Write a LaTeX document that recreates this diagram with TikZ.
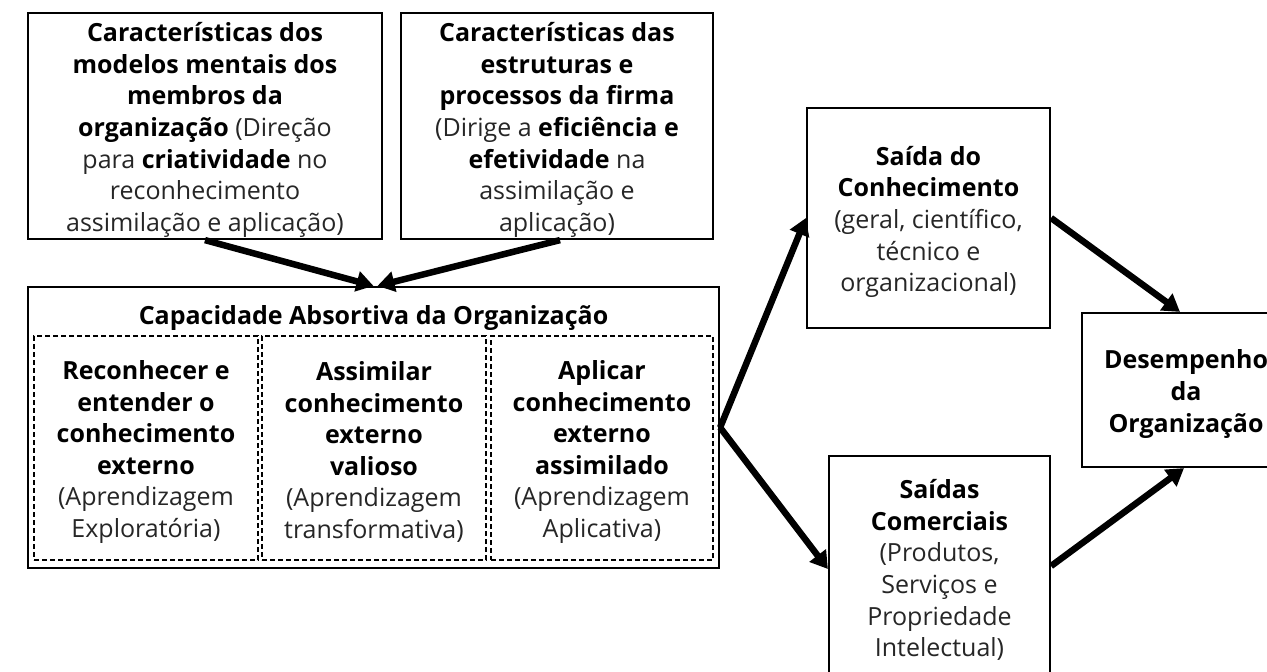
\documentclass[tikz,border=0pt]{standalone}
\usepackage{fontspec}
\setmainfont{Open Sans}
\usetikzlibrary{arrows.meta}
\newcommand\fsz{\fontsize{25}{31.6}\selectfont}
\newcommand\bt[1]{{\bfseries\color{black}#1}}
\definecolor{txtgray}{HTML}{262626}
\begin{document}
\begin{tikzpicture}[x=1pt,y=-1pt,
  box/.style={draw=black, line width=2.2pt, inner sep=0pt},
  dbox/.style={draw=black, line width=1.4pt, dash pattern=on 5pt off 3pt, inner sep=0pt},
  txt/.style={align=center, inner sep=0pt, font=\fsz, text=txtgray},
  arr/.style={line width=6.5pt, -{Triangle[length=17pt,width=20pt]}},
]
\useasboundingbox (0,0) rectangle (1267,672);
\clip (0,0) rectangle (1267,672);
\fill[white] (0,0) rectangle (1267,672);

\node[box, minimum width=354pt, minimum height=226pt] (c1) at (205,126) {};
\node[txt] (c1t) at ([yshift=-4pt]c1.center)
  {\bt{Características dos}\\ \bt{modelos mentais dos}\\ \bt{membros da}\\
   \bt{organização} (Direção\\ para \bt{criatividade} no\\ reconhecimento\\ assimilação e aplicação)};
\node[box, minimum width=312pt, minimum height=226pt] (c2) at (557,126) {};
\node[txt] (c2t) at ([yshift=-4pt]c2.center)
  {\bt{Características das}\\ \bt{estruturas e}\\ \bt{processos da firma}\\
   (Dirige a \bt{eficiência e}\\ \bt{efetividade} na\\ assimilação e\\ aplicação)};

\node[box, minimum width=691pt, minimum height=281pt] (cap) at (373.5,427.5) {};
\node[txt] (capt) at (373.5,318) {\bt{Capacidade Absortiva da Organização}};

\node[dbox, minimum width=224pt, minimum height=224pt] (d1) at (146,448) {};
\node[txt] (d1t) at ([yshift=-4pt]d1.center)
  {\bt{Reconhecer e}\\ \bt{entender o}\\ \bt{conhecimento}\\ \bt{externo}\\ (Aprendizagem\\ Exploratória)};
\node[dbox, minimum width=224pt, minimum height=224pt] (d2) at (374,448) {};
\node[txt] (d2t) at ([yshift=-4pt]d2.center)
  {\bt{Assimilar}\\ \bt{conhecimento}\\ \bt{externo}\\ \bt{valioso}\\ (Aprendizagem\\ transformativa)};
\node[dbox, minimum width=222pt, minimum height=224pt] (d3) at (602,448) {};
\node[txt] (d3t) at ([yshift=-4pt]d3.center)
  {\bt{Aplicar}\\ \bt{conhecimento}\\ \bt{externo}\\ \bt{assimilado}\\ (Aprendizagem\\ Aplicativa)};

\node[box, minimum width=243pt, minimum height=220pt] (sk) at (928.5,218) {};
\node[txt] (skt) at ([yshift=-4pt]sk.center)
  {\bt{Saída do}\\ \bt{Conhecimento}\\ (geral, científico,\\ técnico e\\ organizacional)};
\node[box, minimum width=221pt, minimum height=220pt] (sc) at (939.5,566) {};
\node[txt] (sct) at ([yshift=-4pt]sc.center)
  {\bt{Saídas}\\ \bt{Comerciais}\\ (Produtos,\\ Serviços e\\ Propriedade\\ Intelectual)};
\node[box, minimum width=208pt, minimum height=154pt] (dp) at (1186,390) {};
\node[txt] (dpt) at ([yshift=-4pt]dp.center)
  {\bt{Desempenho}\\ \bt{da}\\ \bt{Organização}};

\draw[arr] (c1.south) -- (cap.north);
\draw[arr] ([xshift=3pt]c2.south) -- ([xshift=4pt]cap.north);
\draw[arr] (cap.east) -- (sk.west);
\draw[arr] (cap.east) -- ([yshift=-3pt]sc.west);
\draw[arr] (sk.east) -- ([xshift=-6pt]dp.north);
\draw[arr] (sc.east) -- ([xshift=-2pt]dp.south);
\end{tikzpicture}
\end{document}
